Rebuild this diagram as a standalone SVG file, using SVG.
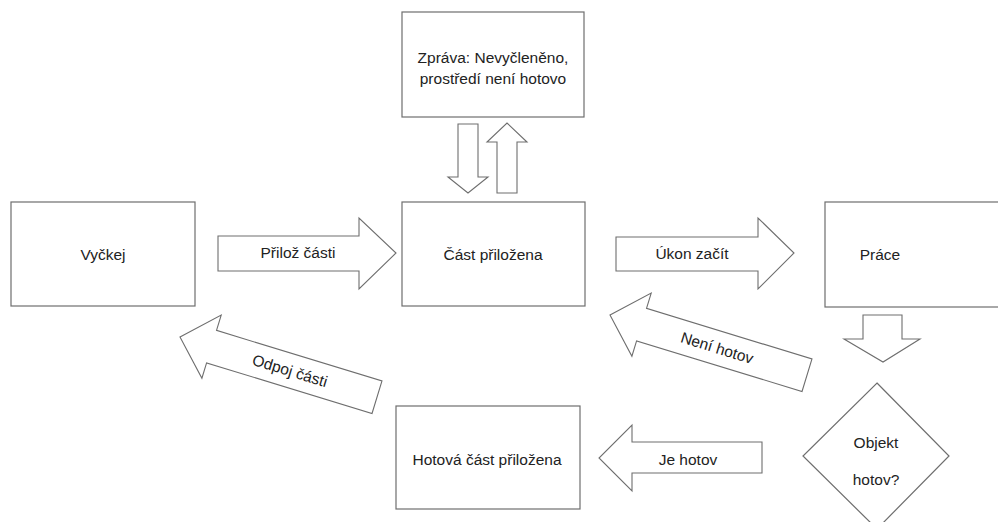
<svg xmlns="http://www.w3.org/2000/svg" width="998" height="522" viewBox="0 0 998 522">
<style>
.box{fill:#fff;stroke:#6e6e6e;stroke-width:1.2}
.arr{fill:#fff;stroke:#6e6e6e;stroke-width:1.1;stroke-linejoin:miter}
text{font-family:"Liberation Sans",Arial,sans-serif;font-size:15.5px;fill:#222;text-anchor:middle}
</style>
<rect width="998" height="522" fill="#fff"/>
<g id="connectors">
  <g id="c-priloz"><polygon class="arr" points="218,236 359,236 359,218 396,253 359,289 359,271 218,271"/><text x="298" y="258">Přilož části</text></g>
  <g id="c-ukon"><polygon class="arr" points="616,237 758,237 758,218 794,253 758,289 758,271 616,271"/><text x="692" y="259">Úkon začít</text></g>
  <g id="c-down-zprava"><polygon class="arr" points="458,124 478,124 478,177 488,177 468,193 448,177 458,177"/></g>
  <g id="c-up-zprava"><polygon class="arr" points="497,193 517,193 517,142 527,142 507,123 487,142 497,142"/></g>
  <g id="c-down-prace"><polygon class="arr" points="863,315 902,315 902,339 920,339 883,362 844,339 863,339"/></g>
  <g id="c-je-hotov"><polygon class="arr" points="762,442 762,473 632,473 632,491 599,458 632,425 632,442"/><text x="688" y="465">Je hotov</text></g>
  <g id="c-neni-hotov" transform="translate(610,315) rotate(17)"><polygon class="arr" points="0,0 33,-33 33,-17 206,-17 206,17 33,17 33,33"/><text x="112" y="5.5">Není hotov</text></g>
  <g id="c-odpoj" transform="translate(180,337) rotate(17)"><polygon class="arr" points="0,0 33,-33 33,-17 206,-17 206,17 33,17 33,33"/><text x="115" y="5.5">Odpoj části</text></g>
</g>
<g id="n-zprava"><rect class="box" x="402" y="12" width="182" height="105"/><text x="493" y="63">Zpráva: Nevyčleněno,</text><text x="493" y="84">prostředí není hotovo</text></g>
<g id="n-vyckej"><rect class="box" x="11" y="202" width="184" height="104"/><text x="103" y="260">Vyčkej</text></g>
<g id="n-cast"><rect class="box" x="402" y="202" width="183" height="104"/><text x="493" y="260">Část přiložena</text></g>
<g id="n-prace"><rect class="box" x="825" y="202" width="180" height="105"/><text x="880" y="260">Práce</text></g>
<g id="n-hotova"><rect class="box" x="396" y="406" width="184" height="103"/><text x="487" y="465">Hotová část přiložena</text></g>
<g id="n-objekt"><polygon class="box" points="877,383 949,456 877,529 803,456"/><text x="876" y="448">Objekt</text><text x="876" y="485">hotov?</text></g>
</svg>
